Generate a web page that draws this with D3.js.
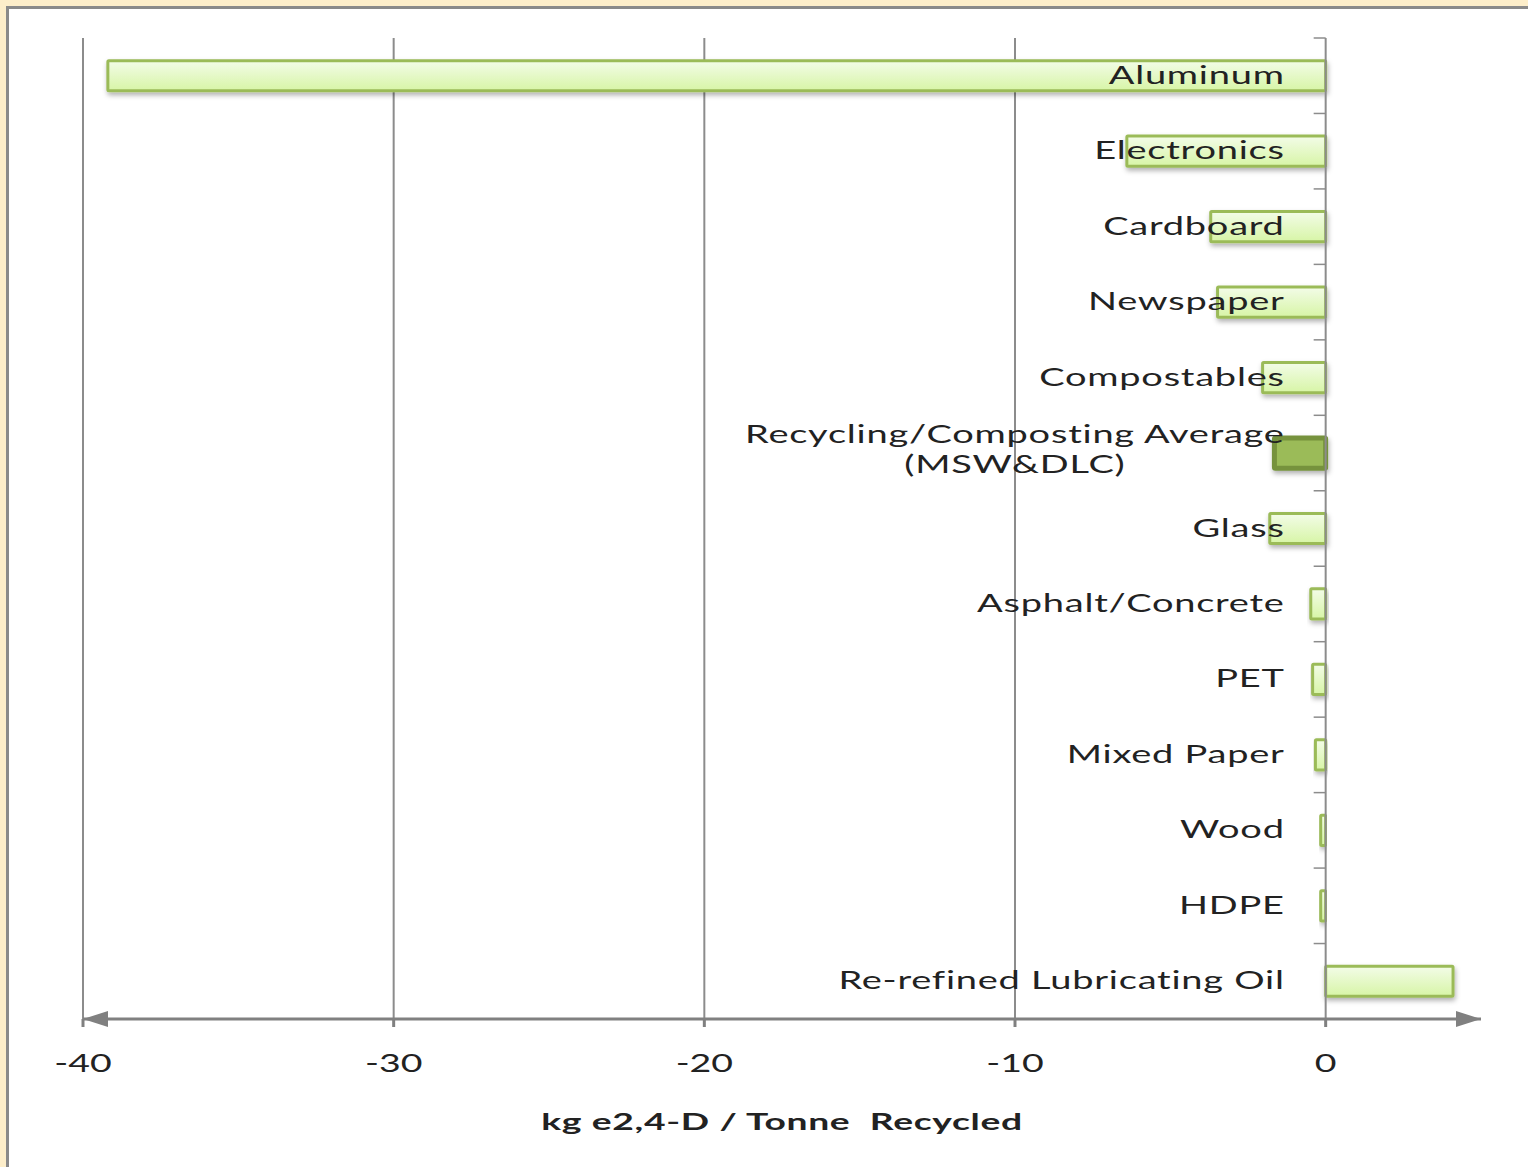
<!DOCTYPE html>
<html>
<head>
<meta charset="utf-8">
<script src="https://cdn.jsdelivr.net/npm/d3@7"></script>
<style>
  html, body { margin: 0; padding: 0; background: #fdeeca; }
  svg { display: block; }
  text { font-family: Lato, "Open Sans", sans-serif; fill: #222222; }
</style>
</head>
<body>
<svg id="chart" width="1528" height="1167"></svg>
<script>
// ---- data ----
const categories = [
  "Aluminum",
  "Electronics",
  "Cardboard",
  "Newspaper",
  "Compostables",
  "Recycling/Composting Average\n(MSW&DLC)",
  "Glass",
  "Asphalt/Concrete",
  "PET",
  "Mixed Paper",
  "Wood",
  "HDPE",
  "Re-refined Lubricating Oil"
];
const values = [-39.2, -6.4, -3.7, -3.48, -2.03, -1.65, -1.8, -0.48, -0.42, -0.33, -0.16, -0.16, 4.1];
const highlighted = [false, false, false, false, false, true, false, false, false, false, false, false, false];
const xTicks = [-40, -30, -20, -10, 0];
const xDomain = [-40, 5];
const xTitle = "kg e2,4-D / Tonne Recycled";

// ---- layout ----
const svg = d3.select("#chart");
const mLeft = 83, mRight = 1481, mTop = 38, mBottom = 1019;
const textScale = 1.52;

// frame
svg.append("rect").attr("x", 7.5).attr("y", 7.5).attr("width", 1540).attr("height", 1200)
  .attr("fill", "#ffffff").attr("stroke", "#8a8a8a").attr("stroke-width", 3);

const defs = svg.append("defs");
const grad = defs.append("linearGradient").attr("id", "barGrad").attr("x1", 0).attr("y1", 0).attr("x2", 0).attr("y2", 1);
grad.append("stop").attr("offset", "0%").attr("stop-color", "#f3fce8");
grad.append("stop").attr("offset", "100%").attr("stop-color", "#d7f5a6");
const flt = defs.append("filter").attr("id", "shadow").attr("x", "-20%").attr("y", "-50%").attr("width", "140%").attr("height", "200%");
flt.append("feDropShadow").attr("dx", 1).attr("dy", 3).attr("stdDeviation", 2.5)
  .attr("flood-color", "#000").attr("flood-opacity", 0.3);
const arrow = defs.append("marker").attr("id", "arrow").attr("viewBox", "0 0 10 10")
  .attr("refX", 10).attr("refY", 5).attr("markerWidth", 25).attr("markerHeight", 16)
  .attr("preserveAspectRatio", "none")
  .attr("markerUnits", "userSpaceOnUse").attr("orient", "auto-start-reverse");
arrow.append("path").attr("d", "M0,0 L10,5 L0,10 Z").attr("fill", "#808080");

const x = d3.scaleLinear().domain(xDomain).range([mLeft, mRight]);
const y = d3.scaleBand().domain(categories).range([mTop, mBottom]).paddingInner(0.6).paddingOuter(0.3);

// gridlines
svg.append("g").selectAll("line").data(xTicks.filter(t => t !== 0)).join("line")
  .attr("x1", d => x(d)).attr("x2", d => x(d)).attr("y1", mTop).attr("y2", mBottom)
  .attr("stroke", "#8c8c8c").attr("stroke-width", 2);

// bars
svg.append("g").selectAll("rect").data(categories).join("rect")
  .attr("x", (d, i) => x(Math.min(0, values[i])))
  .attr("width", (d, i) => Math.abs(x(values[i]) - x(0)))
  .attr("y", d => y(d))
  .attr("height", y.bandwidth())
  .attr("fill", (d, i) => highlighted[i] ? "#9bbb59" : "url(#barGrad)")
  .attr("stroke", (d, i) => highlighted[i] ? "#76923c" : "#9bbb59")
  .attr("stroke-width", (d, i) => highlighted[i] ? 5 : 3)
  .attr("rx", 1)
  .attr("filter", "url(#shadow)");

// y axis at zero
const yAxisG = svg.append("g").attr("transform", `translate(${x(0)},0)`);
yAxisG.append("line").attr("x1", 0).attr("x2", 0).attr("y1", mTop).attr("y2", mBottom)
  .attr("stroke", "#8c8c8c").attr("stroke-width", 2);
const boundaries = d3.range(0, categories.length).map(i => mTop + i * y.step());
yAxisG.selectAll("line.tick").data(boundaries).join("line").attr("class", "tick")
  .attr("x1", -12).attr("x2", 0).attr("y1", d => d).attr("y2", d => d)
  .attr("stroke", "#8c8c8c").attr("stroke-width", 1.5);

// x axis
const xAxisG = svg.append("g");
xAxisG.append("line").attr("x1", x(xDomain[0])).attr("x2", x(xDomain[1]))
  .attr("y1", mBottom).attr("y2", mBottom)
  .attr("stroke", "#808080").attr("stroke-width", 3)
  .attr("marker-start", "url(#arrow)").attr("marker-end", "url(#arrow)");
xAxisG.selectAll("line.tick").data(xTicks).join("line").attr("class", "tick")
  .attr("x1", d => x(d)).attr("x2", d => x(d)).attr("y1", mBottom).attr("y2", mBottom + 8)
  .attr("stroke", "#808080").attr("stroke-width", 3);
xAxisG.selectAll("g.lbl").data(xTicks).join("g").attr("class", "lbl")
  .attr("transform", d => `translate(${x(d)},${mBottom + 53}) scale(1.5,1)`)
  .append("text").attr("text-anchor", "middle").attr("font-size", 25).text(d => d);

// x title
svg.append("g").attr("transform", `translate(${(mLeft + mRight) / 2},${mBottom + 111}) scale(1.62,1)`)
  .append("text").attr("text-anchor", "middle").attr("font-size", 23).attr("font-weight", 700)
  .attr("letter-spacing", 0.4).attr("xml:space", "preserve")
  .text(xTitle.replace("Tonne ", "Tonne  "));

// category labels
const labelEnd = x(0) - 41;
categories.forEach((c, i) => {
  const lines = c.split("\n");
  const cy = y(c) + y.bandwidth() / 2;
  const g = svg.append("g").attr("transform", `translate(${labelEnd},${cy}) scale(${textScale},1)`);
  if (lines.length === 1) {
    g.append("text").attr("text-anchor", "end").attr("y", 8).attr("font-size", 25)
      .attr("letter-spacing", 0.5).text(c);
  } else {
    const t = g.append("text").attr("font-size", 25).attr("letter-spacing", 0.5).attr("text-anchor", "middle");
    const t0 = t.append("tspan").attr("y", -10).text(lines[0]);
    const w = t0.node().getComputedTextLength();
    t0.attr("x", -w / 2);
    lines.slice(1).forEach((ln, k) => {
      t.append("tspan").attr("x", -w / 2).attr("y", -10 + 30 * (k + 1)).text(ln);
    });
  }
});
</script>
</body>
</html>
